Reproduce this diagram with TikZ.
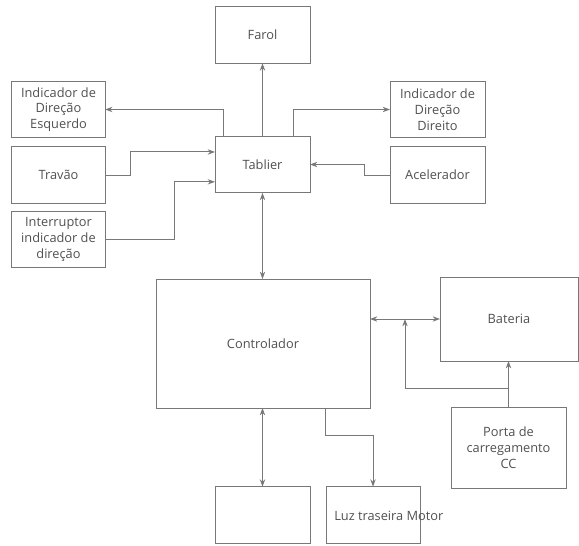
\documentclass[tikz,border=0pt]{standalone}
\usepackage{fontspec}
\setmainfont{Open Sans}
\usepackage{tikz}
\usetikzlibrary{arrows.meta, positioning, calc}
\definecolor{linegray}{RGB}{120, 120, 120}
\definecolor{textgray}{RGB}{80, 80, 80}

\begin{document}
\begin{tikzpicture}[
    x=0.75pt, y=-0.75pt,
    box/.style={draw=linegray, line width=0.75pt, align=center, text=textgray,
        font=\fontsize{9.6}{11.8}\selectfont, inner sep=2pt, outer sep=0pt},
    small/.style={box, minimum width=70pt, minimum height=42.5pt},
    arrow/.style={-{Stealth[length=5.5pt, width=4pt]}, draw=linegray, line width=0.75pt},
    dblarrow/.style={{Stealth[length=5.5pt, width=4pt]}-{Stealth[length=5.5pt, width=4pt]}, draw=linegray, line width=0.75pt}
]
    \useasboundingbox (0,0) rectangle (579,546);

    % Upper blocks
    \node[small, minimum width=71.25pt] (tab) at (262.5,164.5) {Tablier};
    \node[small, minimum width=71.25pt] (far) at (262.5,35) {Farol};
    \node[small] (esq) at (58.5,109.5) {Indicador de\\ Direção\\ Esquerdo};
    \node[small] (trv) at (58.5,175) {Travão};
    \node[small] (intr) at (58.5,239.5) {Interruptor\\ indicador de\\ direção};
    \node[small, minimum width=71.25pt] (dir) at (437.5,109.5) {Indicador de\\ Direção\\ Direito};
    \node[small, minimum width=71.25pt] (acc) at (437.5,175) {Acelerador};

    % Lower blocks
    \node[box, minimum width=160.5pt, minimum height=96.75pt] (ctl) at (263,343.5) {Controlador};
    \node[box, minimum width=103.5pt, minimum height=63pt] (bat) at (509,319) {Bateria};
    \node[box, minimum width=86.25pt, minimum height=60.75pt] (prt) at (508.5,447.5) {Porta de\\ carregamento\\ CC};
    \node[small, minimum width=71.25pt] (emp) at (262.5,515) {};
    \node[small, minimum width=70.5pt] (luz) at (373,515) {};
    \node[anchor=west, text=textgray, font=\fontsize{9.6}{11.8}\selectfont, inner sep=0pt] (luzt) at (334,516) {Luz traseira Motor};
    \coordinate (jn) at ([xshift=-26.25pt]bat.west);

    % Connections
    \draw[arrow] (tab) -- (far);
    \draw[arrow] ([xshift=6pt]tab.north west) |- (esq);
    \draw[arrow] ([xshift=-12.75pt]tab.north east) |- (dir);
    \draw[arrow] (trv.east) -- ++(25,0) |- ([yshift=9.4pt]tab.west);
    \draw[arrow] (intr.east) -- ++(69,0) |- ([yshift=-13pt]tab.west);
    \draw[arrow] (acc.west) -- ++(-26,0) |- (tab.east);
    \draw[dblarrow] (tab.south) -- (tab.south |- ctl.north);
    \draw[dblarrow] (bat.west -| ctl.east) -- (bat.west);
    \draw[arrow] (prt.north) -- (prt.north |- bat.south);
    \draw[arrow] ([yshift=14.25pt]prt.north) -| (jn);
    \draw[dblarrow] (ctl.south -| emp.north) -- (emp.north);
    \draw[arrow] ([xshift=47pt]ctl.south) -- ++(0,27) -| (luz.north);

\end{tikzpicture}
\end{document}
